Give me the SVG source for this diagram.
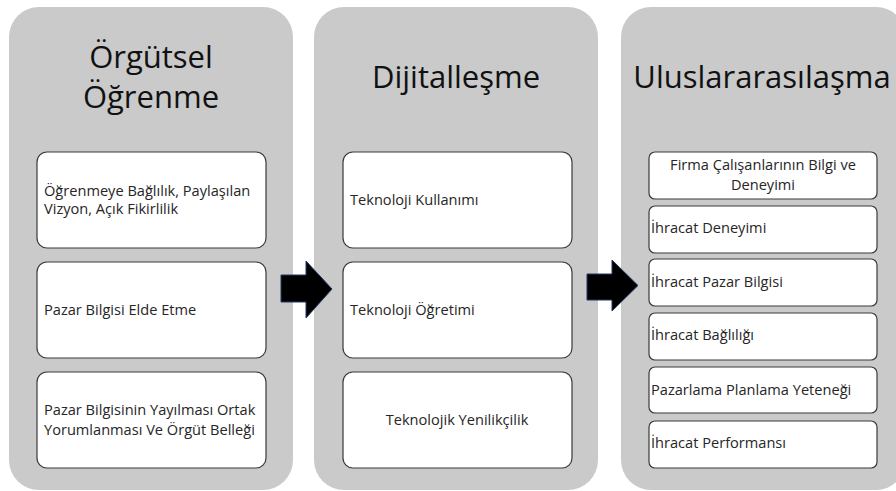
<svg xmlns="http://www.w3.org/2000/svg" width="896" height="491" viewBox="0 0 896 491">
  <style>
    .panel { fill: #cacaca; }
    .box { fill: #ffffff; stroke: #3a3a3a; stroke-width: 1.2; }
    .title { font-family: "Open Sans", Lato, "Liberation Sans", sans-serif; font-size: 31px; fill: #111111; text-anchor: middle; }
    .label { font-family: "Open Sans", Lato, "Liberation Sans", sans-serif; font-size: 14.6px; fill: #262626; }
    .mid { text-anchor: middle; }
    .arrow { fill: #000000; stroke: #1f3864; stroke-width: 1; stroke-linejoin: miter; }
  </style>
  <rect width="896" height="491" fill="#ffffff"/>

  <!-- Column 1 -->
  <g id="orgutsel-ogrenme">
    <rect class="panel" x="9" y="7" width="284" height="483" rx="30"/>
    <text class="title" x="151" y="68">Örgütsel</text>
    <text class="title" x="151" y="108">Öğrenme</text>
  </g>
  <g id="ogrenmeye-baglilik">
    <rect class="box" x="37" y="152" width="229" height="96" rx="10"/>
    <text class="label" x="44" y="196">Öğrenmeye Bağlılık, Paylaşılan</text>
    <text class="label" x="44" y="214">Vizyon, Açık Fikirlilik</text>
  </g>
  <g id="pazar-bilgisi-elde-etme">
    <rect class="box" x="37" y="262" width="229" height="96" rx="10"/>
    <text class="label" x="44" y="315">Pazar Bilgisi Elde Etme</text>
  </g>
  <g id="pazar-bilgisinin-yayilmasi">
    <rect class="box" x="37" y="372" width="229" height="96" rx="10"/>
    <text class="label" x="44" y="415">Pazar Bilgisinin Yayılması Ortak</text>
    <text class="label" x="44" y="435">Yorumlanması Ve Örgüt Belleği</text>
  </g>

  <!-- Column 2 -->
  <g id="dijitallesme">
    <rect class="panel" x="314" y="7" width="284" height="483" rx="30"/>
    <text class="title" x="456" y="88">Dijitalleşme</text>
  </g>
  <g id="teknoloji-kullanimi">
    <rect class="box" x="343" y="152" width="229" height="96" rx="10"/>
    <text class="label" x="350" y="205">Teknoloji Kullanımı</text>
  </g>
  <g id="teknoloji-ogretimi">
    <rect class="box" x="343" y="262" width="229" height="96" rx="10"/>
    <text class="label" x="350" y="315">Teknoloji Öğretimi</text>
  </g>
  <g id="teknolojik-yenilikcilik">
    <rect class="box" x="343" y="372" width="229" height="96" rx="10"/>
    <text class="label mid" x="457" y="425">Teknolojik Yenilikçilik</text>
  </g>

  <!-- Column 3 -->
  <g id="uluslararasilasma">
    <rect class="panel" x="621" y="7" width="285" height="483" rx="30"/>
    <text class="title" x="762" y="88">Uluslararasılaşma</text>
  </g>
  <g id="firma-calisanlari">
    <rect class="box" x="649" y="152" width="228" height="47" rx="6"/>
    <text class="label mid" x="763" y="170">Firma Çalışanlarının Bilgi ve</text>
    <text class="label mid" x="763" y="190">Deneyimi</text>
  </g>
  <g id="ihracat-deneyimi">
    <rect class="box" x="649" y="206" width="228" height="47" rx="6"/>
    <text class="label" x="651" y="233">İhracat Deneyimi</text>
  </g>
  <g id="ihracat-pazar-bilgisi">
    <rect class="box" x="649" y="259" width="228" height="47" rx="6"/>
    <text class="label" x="651" y="287">İhracat Pazar Bilgisi</text>
  </g>
  <g id="ihracat-bagliligi">
    <rect class="box" x="649" y="313" width="228" height="47" rx="6"/>
    <text class="label" x="651" y="340">İhracat Bağlılığı</text>
  </g>
  <g id="pazarlama-planlama">
    <rect class="box" x="649" y="367" width="228" height="46" rx="6"/>
    <text class="label" x="651" y="395">Pazarlama Planlama Yeteneği</text>
  </g>
  <g id="ihracat-performansi">
    <rect class="box" x="649" y="421" width="228" height="47" rx="6"/>
    <text class="label" x="651" y="448">İhracat Performansı</text>
  </g>

  <!-- Flow arrows between columns -->
  <g id="connectors">
    <polygon class="arrow" points="281,275 306,275 306,261 332,289 306,318 306,302 281,302"/>
    <polygon class="arrow" points="587,274 612,274 612,260 638,285.5 612,311 612,300 587,300"/>
  </g>
</svg>
